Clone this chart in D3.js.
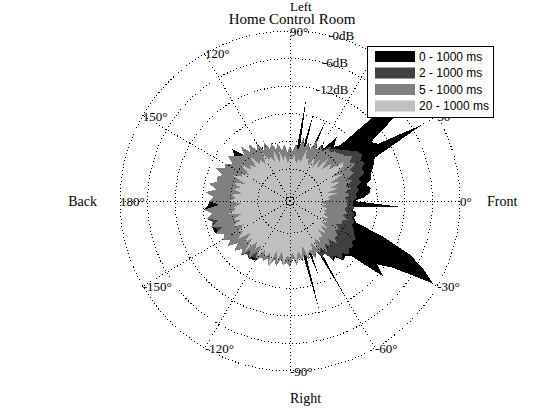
<!DOCTYPE html>
<html lang="en">
<head>
  <meta charset="utf-8">
  <title>Home Control Room</title>
  <script src="https://d3js.org/d3.v7.min.js"></script>
  <style>
    body { margin: 0; background: #fff; }
    svg text { font-family: 'Liberation Serif', 'Times New Roman', serif; fill: #000; }
  </style>
</head>
<body>
<script>
// energy per direction, dB re. maximum, one value every 3 degrees (0 = Front, 90 = Left)
var angleStep = 3;
var angles = d3.range(0, 360, angleStep);

var db0_1000 = [
  -23.0, -20.7, -19.6, -19.2, -20.0, -18.7, -18.5, -17.8, -17.0, -16.3,
  -3.7, -14.1, -15.2, -7.0, -6.5, -9.1, -20.7, -21.8, -19.6, -23.5,
  -22.9, -29.0, -17.4, -29.0, -29.0, -17.0, -29.0, -14.1, -29.0, -26.1,
  -25.0, -26.3, -24.5, -25.9, -24.2, -25.4, -23.6, -25.0, -22.8, -24.6,
  -22.4, -23.8, -21.6, -23.4, -21.0, -22.9, -20.0, -21.5, -20.3, -22.1,
  -20.7, -21.0, -19.4, -21.2, -20.2, -20.6, -19.0, -20.8, -18.5, -20.3,
  -19.4, -19.2, -18.1, -19.9, -18.5, -19.6, -19.0, -19.2, -19.4, -21.0,
  -20.2, -21.5, -20.3, -22.4, -20.7, -22.3, -21.1, -22.2, -21.6, -21.8,
  -22.0, -23.2, -22.8, -23.6, -22.0, -23.8, -22.4, -24.1, -22.9, -23.6,
  -22.4, -24.6, -22.9, -24.5, -29.0, -12.0, -29.0, -19.6, -29.0, -29.0,
  -12.6, -29.0, -20.9, -21.3, -19.6, -20.0, -19.2, -10.9, -13.5, -10.4,
  -1.1, -4.4, -8.5, -15.2, -21.8, -22.6, -22.2, -22.6, -25.0, -13.1
];

var db2_1000 = [
  -23.1, -22.4, -22.6, -21.8, -22.2, -20.9, -21.3, -19.6, -20.0, -18.7,
  -19.2, -18.3, -18.7, -19.6, -20.5, -21.3, -21.8, -22.6, -22.2, -23.9,
  -23.0, -24.4, -22.5, -25.0, -23.6, -24.9, -22.9, -25.7, -24.5, -26.1,
  -25.0, -26.3, -24.5, -25.9, -24.2, -25.4, -23.6, -25.0, -22.8, -24.6,
  -22.4, -23.8, -21.6, -23.4, -21.0, -22.9, -22.3, -21.5, -20.3, -22.1,
  -20.7, -21.0, -19.4, -21.2, -20.2, -20.6, -19.0, -20.8, -18.5, -20.3,
  -19.4, -21.5, -18.1, -19.9, -18.5, -19.6, -19.0, -20.0, -19.4, -21.0,
  -20.2, -21.5, -20.3, -22.4, -20.7, -22.3, -21.1, -22.2, -21.6, -22.6,
  -22.0, -23.2, -22.8, -23.6, -22.0, -23.8, -22.4, -24.1, -22.9, -23.6,
  -22.4, -24.6, -22.9, -24.5, -23.7, -25.0, -23.6, -25.1, -23.3, -24.6,
  -22.6, -23.5, -21.3, -21.8, -20.0, -20.9, -19.6, -20.5, -20.0, -20.9,
  -20.5, -21.3, -21.8, -22.6, -22.2, -23.1, -22.6, -23.5, -22.9, -23.3
];

var db5_1000 = [
  -24.4, -25.2, -23.7, -25.0, -23.3, -24.6, -22.7, -23.8, -21.6, -22.5,
  -20.5, -21.6, -20.2, -21.5, -21.7, -22.3, -22.5, -23.2, -22.8, -24.2,
  -23.4, -24.6, -22.6, -25.1, -23.7, -25.0, -23.0, -25.8, -24.6, -26.2,
  -25.0, -26.3, -24.5, -25.9, -24.2, -25.4, -23.6, -25.0, -22.8, -24.6,
  -22.4, -23.8, -21.6, -23.4, -21.0, -22.9, -22.3, -21.5, -20.3, -22.1,
  -20.7, -21.0, -19.4, -21.2, -20.2, -20.6, -19.0, -20.8, -18.5, -20.3,
  -19.4, -21.5, -18.1, -19.9, -18.5, -20.8, -19.0, -21.1, -19.4, -21.0,
  -20.2, -21.5, -20.3, -22.4, -20.7, -22.3, -21.1, -23.3, -21.6, -23.8,
  -22.0, -23.2, -22.8, -23.6, -22.0, -23.8, -22.4, -24.1, -22.9, -23.6,
  -22.4, -24.6, -22.9, -24.5, -23.7, -25.0, -23.6, -25.1, -23.3, -24.6,
  -24.1, -25.0, -23.3, -25.1, -23.7, -25.2, -23.3, -24.5, -24.1, -25.4,
  -24.2, -25.9, -24.6, -25.0, -23.7, -25.2, -24.1, -25.0, -24.6, -24.6
];

var db20_1000 = [
  -29.6, -28.0, -29.0, -26.5, -28.9, -26.0, -27.5, -25.2, -27.6, -24.0,
  -26.4, -23.4, -22.5, -26.2, -24.8, -27.3, -24.6, -27.8, -26.0, -28.2,
  -25.8, -28.6, -27.0, -27.2, -25.3, -28.5, -27.5, -28.9, -26.8, -28.0,
  -27.3, -28.8, -26.9, -28.1, -26.0, -28.3, -25.4, -27.8, -26.6, -26.9,
  -24.6, -27.4, -25.9, -26.8, -24.0, -26.7, -25.4, -26.0, -23.4, -26.6,
  -25.1, -25.3, -23.2, -26.7, -24.0, -25.9, -24.3, -26.4, -24.2, -25.3,
  -23.6, -26.3, -24.7, -25.0, -23.2, -26.2, -24.0, -25.4, -23.3, -25.9,
  -24.2, -24.8, -22.9, -26.1, -23.6, -25.4, -22.4, -25.6, -24.2, -25.5,
  -22.8, -25.1, -23.8, -24.9, -22.3, -25.6, -23.6, -26.0, -23.2, -25.0,
  -24.7, -25.8, -23.6, -26.0, -24.5, -27.0, -24.1, -25.7, -25.3, -26.8,
  -25.0, -27.4, -25.9, -27.1, -26.4, -28.3, -26.3, -28.6, -26.7, -28.9,
  -27.1, -29.4, -27.6, -29.3, -28.6, -29.5, -28.4, -30.2, -29.0, -30.2
];

var seriesNames = ['0 - 1000 ms', '2 - 1000 ms', '5 - 1000 ms', '20 - 1000 ms'];
var seriesColors = ['#000000', '#404040', '#808080', '#bfbfbf'];
var seriesValues = [db0_1000, db2_1000, db5_1000, db20_1000];

var ringDb = [0, -6, -12, -18, -24, -30, -36];
var ringLabels = ['-0dB', '-6dB', '-12dB'];
var spokeAngles = [0, 30, 60, 90, 120, 150, 180, -150, -120, -90, -60, -30];
var sideNames = ['Front', 'Left', 'Back', 'Right'];

var w = 560, h = 420;
var cx = 290, cy = 201;
var rMax = 170;
var dbMin = -37;

var r = d3.scaleLinear().domain([dbMin, 0]).range([0, rMax]).clamp(true);
// polar degrees (counter-clockwise from the right) -> d3 radial angle (clockwise from the top)
var a = d3.scaleLinear().domain([0, 360]).range([Math.PI / 2, Math.PI / 2 - 2 * Math.PI]);

function px(deg, rad) { return cx + rad * Math.sin(a(deg)); }
function py(deg, rad) { return cy - rad * Math.cos(a(deg)); }

var svg = d3.select('body').append('svg')
  .attr('width', w)
  .attr('height', h);

var plot = svg.append('g').attr('transform', 'translate(' + cx + ',' + cy + ')');

// patches, widest first
var radial = d3.lineRadial()
  .angle(function(d) { return a(d[0]); })
  .radius(function(d) { return r(d[1]); })
  .curve(d3.curveLinearClosed);

plot.selectAll('path.patch')
  .data(seriesValues)
  .enter()
  .append('path')
  .attr('class', 'patch')
  .attr('d', function(vals) { return radial(angles.map(function(t, i) { return [t, vals[i]]; })); })
  .attr('fill', function(d, i) { return seriesColors[i]; })
  .attr('stroke', 'none')
  .attr('shape-rendering', 'crispEdges');

// dotted grid on top
plot.selectAll('circle.ring')
  .data(ringDb)
  .enter()
  .append('circle')
  .attr('class', 'ring')
  .attr('r', function(d) { return r(d); })
  .attr('fill', 'none')
  .attr('stroke', '#000')
  .attr('stroke-width', 1)
  .attr('stroke-dasharray', '1,2.5')
  .attr('shape-rendering', 'crispEdges');

plot.selectAll('line.spoke')
  .data(spokeAngles)
  .enter()
  .append('line')
  .attr('class', 'spoke')
  .attr('x1', 0).attr('y1', 0)
  .attr('x2', function(d) { return rMax * Math.sin(a(d)); })
  .attr('y2', function(d) { return -rMax * Math.cos(a(d)); })
  .attr('stroke', '#000')
  .attr('stroke-width', 1)
  .attr('stroke-dasharray', '1,2.5')
  .attr('shape-rendering', 'crispEdges');

// angle labels sit on the outer ring, left aligned
svg.selectAll('text.angle')
  .data(spokeAngles)
  .enter()
  .append('text')
  .attr('class', 'angle')
  .attr('x', function(d) { return px(d, rMax); })
  .attr('y', function(d) { return py(d, rMax); })
  .attr('dy', '0.35em')
  .style('font-size', '13px')
  .text(function(d) { return d + '\u00b0'; });

// dB labels along 77 degrees
svg.selectAll('text.ringlabel')
  .data(ringLabels)
  .enter()
  .append('text')
  .attr('class', 'ringlabel')
  .attr('x', function(d, i) { return px(77, r(ringDb[i])); })
  .attr('y', function(d, i) { return py(77, r(ringDb[i])); })
  .attr('dy', '0.35em')
  .style('font-size', '13px')
  .text(function(d) { return d; });

// Front / Left / Back / Right
var sideRadius = [197, 195, 193, 197];
svg.selectAll('text.side')
  .data(sideNames)
  .enter()
  .append('text')
  .attr('class', 'side')
  .attr('x', function(d, i) { return px(i * 90, sideRadius[i]); })
  .attr('y', function(d, i) { return py(i * 90, sideRadius[i]); })
  .attr('dy', '0.35em')
  .attr('text-anchor', function(d, i) { return i === 2 ? 'end' : 'start'; })
  .style('font-size', function(d, i) { return i === 1 ? '13px' : '14px'; })
  .text(function(d) { return d; });

svg.append('text')
  .attr('x', 292)
  .attr('y', 23.5)
  .attr('text-anchor', 'middle')
  .style('font-size', '15px')
  .text('Home Control Room');

// legend
var legend = svg.append('g').attr('transform', 'translate(367.5,46.5)');
legend.append('rect')
  .attr('width', 126)
  .attr('height', 71)
  .attr('fill', '#fff')
  .attr('stroke', '#000')
  .attr('stroke-width', 1);

var rows = legend.selectAll('g.row')
  .data(seriesNames)
  .enter()
  .append('g')
  .attr('class', 'row')
  .attr('transform', function(d, i) { return 'translate(7.5,' + (4.5 + i * 16.5) + ')'; });

rows.append('rect')
  .attr('width', 40)
  .attr('height', 11)
  .attr('fill', function(d, i) { return seriesColors[i]; });

rows.append('text')
  .attr('x', 44)
  .attr('y', 5.5)
  .attr('dy', '0.35em')
  .style('font-family', "'Liberation Sans', Arial, sans-serif")
  .style('font-size', '12px')
  .text(function(d) { return d; });
</script>
</body>
</html>
